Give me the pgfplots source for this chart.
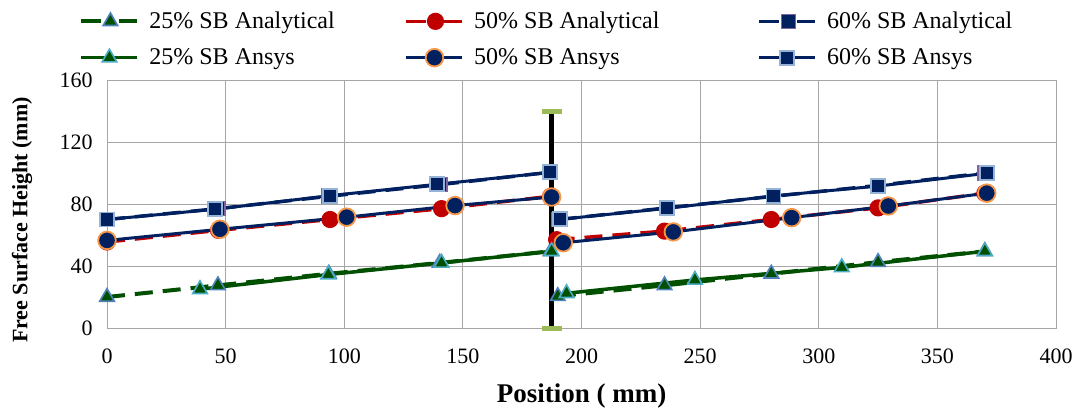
\documentclass[border=0pt]{standalone}
\usepackage{pgfplots}
\pgfplotsset{compat=1.18}
\usepackage{fontspec}
\setmainfont{Liberation Serif}
\definecolor{dkgreen}{RGB}{0,80,0}
\definecolor{edgeblue}{RGB}{79,129,189}
\definecolor{edgeteal}{RGB}{75,172,198}
\definecolor{exred}{RGB}{192,0,0}
\definecolor{navy}{RGB}{0,32,96}
\definecolor{edgeorange}{RGB}{247,150,70}
\definecolor{edgepurple}{RGB}{128,100,162}
\definecolor{edgelblue}{RGB}{149,179,215}
\definecolor{capgreen}{RGB}{155,187,89}
\definecolor{gridgray}{RGB}{166,166,166}
\pgfplotsset{
  dashleg/.style={legend image code/.code={%
    \draw[##1,solid] (0pt,0pt)--(10pt,0pt);
    \draw[##1,solid] (19pt,0pt)--(28pt,0pt);
    \draw[##1,solid,only marks] plot coordinates {(14.5pt,0pt)};}},
  solidleg/.style={legend image code/.code={%
    \draw[##1] (0pt,0pt)--(28pt,0pt);
    \draw[##1,only marks] plot coordinates {(14pt,0pt)};}},
}
\pgfplotstableread{
x y
0 20
46.75 27.5
93.5 35
140.25 42
187 49.5
nan nan
190 20.5
235 27.5
280 35
325 42.5
370 49.5
}\aA
\pgfplotstableread{
x y
0 55.5
47 63
94 70
141 77
187 85
nan nan
189.5 57
235 62.5
280 70
325 77.5
370 87
}\bA
\pgfplotstableread{
x y
0 70
46.75 77
93.5 85
140.25 92.5
187 100.5
nan nan
190.5 70
236 77.5
281 85
325 92
370 100
}\cA
\pgfplotstableread{
x y
39.2 25
93.3 34.5
141 42
187.4 49.5
nan nan
193.7 22.4
247.8 31
309.7 39.1
370 49.5
}\aS
\pgfplotstableread{
x y
0 56.5
47.6 63.7
101 71.5
146.7 79
187.4 84.5
nan nan
192.3 55
238.7 62
288.6 71.2
329.3 78.7
370.8 87
}\bS
\pgfplotstableread{
x y
0 70
45.5 76.6
94 85.4
139 92.7
186.7 100.4
nan nan
190.9 70.1
235.9 77.2
280.9 85.2
325.1 91.6
370.8 99.8
}\cS
\begin{document}
\begin{tikzpicture}
\useasboundingbox (0,0) rectangle (539.5pt,203.5pt);
\begin{axis}[
  at={(53.5pt,39.5pt)}, anchor=south west,
  scale only axis, width=474.5pt, height=124pt,
  xmin=0, xmax=400, ymin=0, ymax=160,
  xtick={0,50,...,400}, ytick={0,40,...,160},
  grid=major, major grid style={color=gridgray, line width=0.5pt},
  axis line style={gridgray, line width=0.5pt},
  major tick length=0pt,
  clip=false,
  unbounded coords=jump,
  /pgf/number format/assume math mode=true,
  tick label style={font=\fontsize{11}{13}\selectfont},
  xticklabel style={yshift=-7pt},
  yticklabel style={xshift=-3.7pt},
  xlabel={\textbf{Position ( mm)}},
  ylabel={\textbf{Free Surface Height (mm)}},
  every axis x label/.style={at={(axis description cs:0.5,0)}, anchor=center, yshift=-34pt, font=\fontsize{13.5}{15}\selectfont},
  every axis y label/.style={at={(axis description cs:0,0.5)}, anchor=center, xshift=-42.5pt, yshift=-8pt, rotate=90, font=\fontsize{11}{13}\selectfont},
  legend columns=3,
  legend cell align=left,
  legend style={draw=none, fill=none, at={(axis description cs:-0.0358,1.31)}, anchor=north west,
    font=\fontsize{12}{14}\selectfont, row sep=4.5pt,
    /tikz/every odd column/.append style={column sep=3pt},
    /tikz/column 2/.append style={column sep=33pt},
    /tikz/column 4/.append style={column sep=47pt}},
]
\addplot[black, line width=2.5pt, mark=-, mark size=5pt, mark options={draw=capgreen, line width=2.5pt}, forget plot] coordinates {(187.5,0) (187.5,140)};
\addplot[dkgreen, line width=2pt, dash pattern=on 9pt off 5pt, mark=triangle*, mark size=4.2pt, mark options={solid, fill=dkgreen, draw=edgeblue, line width=0.8pt}, dashleg] table {\aA};
\addlegendentry{25\% SB Analytical}
\addplot[exred, line width=1.75pt, dash pattern=on 9pt off 5pt, mark=*, mark size=3.9pt, mark options={solid, fill=exred, draw=exred, line width=0.8pt}, dashleg] table {\bA};
\addlegendentry{50\% SB Analytical}
\addplot[navy, line width=1.75pt, dash pattern=on 9pt off 5pt, mark=square*, mark size=3.5pt, mark options={solid, fill=navy, draw=edgepurple, line width=0.8pt}, dashleg] table {\cA};
\addlegendentry{60\% SB Analytical}
\addplot[dkgreen, line width=1.75pt, mark=triangle*, mark size=4.2pt, mark options={fill=dkgreen, draw=edgeteal, line width=0.8pt}, solidleg] table {\aS};
\addlegendentry{25\% SB Ansys}
\addplot[navy, line width=1.5pt, mark=*, mark size=4.4pt, mark options={fill=navy, draw=edgeorange, line width=0.9pt}, solidleg] table {\bS};
\addlegendentry{50\% SB Ansys}
\addplot[navy, line width=1.5pt, mark=square*, mark size=3.5pt, mark options={fill=navy, draw=edgelblue, line width=0.9pt}, solidleg] table {\cS};
\addlegendentry{60\% SB Ansys}
\end{axis}
\end{tikzpicture}
\end{document}
